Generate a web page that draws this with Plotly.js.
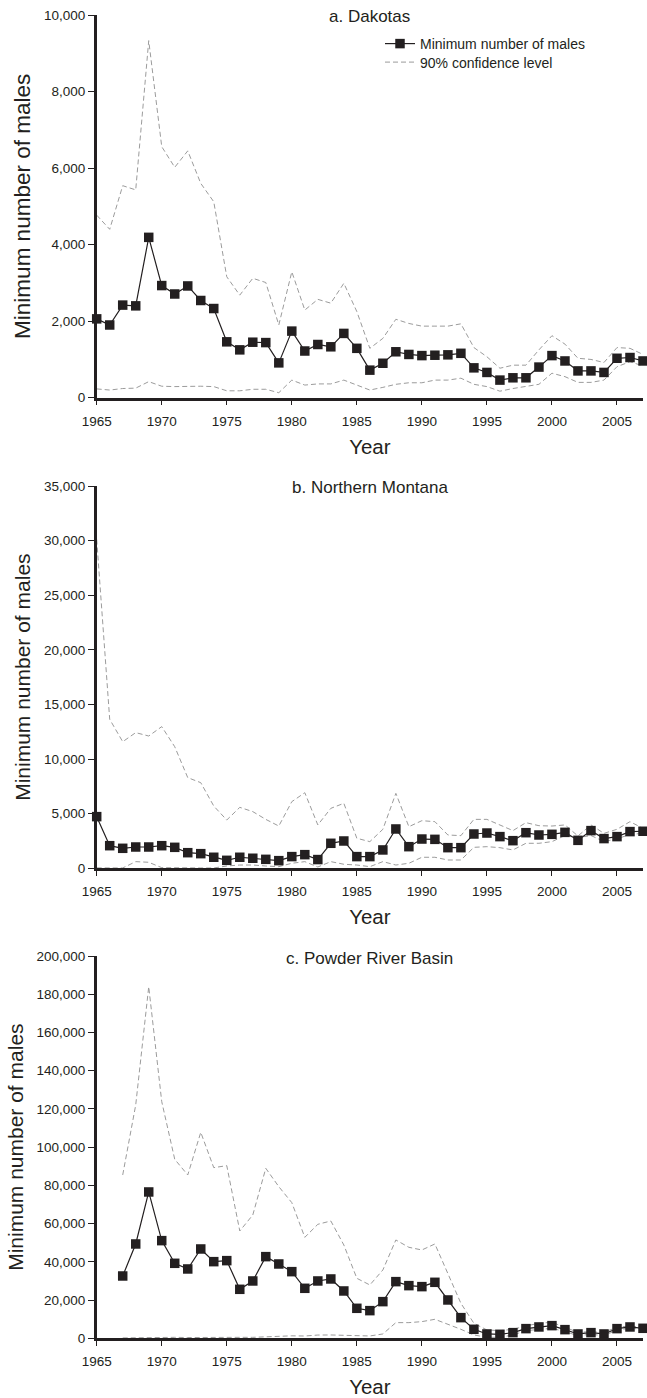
<!DOCTYPE html>
<html>
<head>
<meta charset="utf-8">
<script src="https://cdn.plot.ly/plotly-3.0.1.min.js"></script>
<style>
  html, body { margin: 0; padding: 0; background: #ffffff; }
  #chart { width: 647px; height: 1398px; }
</style>
</head>
<body>
<div id="chart"></div>
<script>
// Survey years shared by all three regions
const years = [1965, 1966, 1967, 1968, 1969, 1970, 1971, 1972, 1973, 1974,
  1975, 1976, 1977, 1978, 1979, 1980, 1981, 1982, 1983, 1984,
  1985, 1986, 1987, 1988, 1989, 1990, 1991, 1992, 1993, 1994,
  1995, 1996, 1997, 1998, 1999, 2000, 2001, 2002, 2003, 2004,
  2005, 2006, 2007];

// a. Dakotas
const dakotasMin = [2060, 1900, 2420, 2400, 4190, 2930, 2710, 2920, 2540, 2330,
  1460, 1250, 1450, 1440, 910, 1740, 1220, 1390, 1330, 1680,
  1290, 720, 900, 1200, 1130, 1100, 1110, 1120, 1160, 780,
  660, 460, 520, 520, 800, 1100, 960, 700, 700, 660,
  1030, 1050, 960];
const dakotasUpper = [4770, 4400, 5540, 5430, 9330, 6560, 6020, 6450, 5600, 5120,
  3160, 2680, 3120, 3010, 1900, 3290, 2290, 2570, 2470, 2990,
  2250, 1290, 1550, 2050, 1940, 1870, 1870, 1870, 1930, 1310,
  1070, 770, 850, 850, 1250, 1620, 1400, 1030, 1000, 920,
  1310, 1290, 1130];
const dakotasLower = [230, 200, 240, 250, 420, 300, 290, 300, 300, 290,
  180, 180, 220, 220, 130, 460, 330, 360, 360, 460,
  330, 200, 270, 350, 390, 390, 460, 460, 510, 350,
  290, 170, 240, 290, 350, 640, 550, 400, 400, 460,
  810, 940, 830];

// b. Northern Montana
const montanaMin = [4730, 2070, 1830, 1950, 1950, 2070, 1920, 1430, 1340, 1010,
  730, 1010, 920, 820, 700, 1070, 1250, 800, 2290, 2500,
  1070, 1070, 1680, 3600, 1980, 2680, 2650, 1890, 1890, 3140,
  3230, 2900, 2530, 3260, 3050, 3110, 3290, 2560, 3450, 2720,
  2900, 3360, 3390];
const montanaUpper = [30100, 13640, 11590, 12420, 12110, 12970, 11130, 8300, 7840, 5700,
  4420, 5580, 5190, 4480, 3870, 6100, 6920, 3970, 5490, 5950,
  2750, 2440, 3570, 6860, 3810, 4360, 4270, 3050, 2990, 4480,
  4480, 3970, 3450, 4180, 3900, 3870, 3970, 2960, 3970, 3200,
  3570, 4270, 3660];
const montanaLower = [40, 30, 30, 610, 550, 60, 30, 30, 30, 30,
  210, 300, 300, 210, 150, 460, 610, 120, 610, 370,
  300, 150, 610, 300, 460, 1010, 1010, 760, 760, 1920,
  1980, 1890, 1680, 2290, 2290, 2440, 3000, 2810, 3000, 2450,
  2700, 3100, 3200];

// c. Powder River Basin (no counts before 1967)
const powderMin = [null, null, 32600, 49350, 76550, 51090, 39230, 36270, 46730, 40100,
  40630, 25630, 29990, 42720, 38880, 34870, 26150, 29990, 31040, 24760,
  15690, 14470, 19180, 29640, 27550, 27030, 29290, 20050, 10810, 4710,
  2270, 2090, 2960, 5060, 5930, 6630, 4530, 2270, 2960, 2270,
  5060, 5930, 5230];
const powderUpper = [null, null, 85440, 122060, 183960, 123800, 93640, 85440, 107760, 89280,
  90320, 56150, 64520, 88930, 79340, 70970, 52830, 59630, 61380, 48820,
  31390, 27900, 35750, 51440, 47600, 46210, 49350, 34000, 18310, 7850,
  4360, 4010, 4710, 6450, 7850, 8370, 5750, 3140, 3490, 3140,
  5750, 6450, 5750];
const powderLower = [null, null, 200, 300, 600, 400, 500, 400, 500, 400,
  500, 500, 500, 800, 1200, 1300, 1200, 1700, 1740, 1570,
  1220, 1220, 2270, 8200, 8200, 8720, 9940, 7500, 4710, 1740,
  520, 520, 1740, 4010, 4710, 5230, 3490, 1390, 2090, 1390,
  4360, 5230, 4710];

const panelTitles = ['a. Dakotas', 'b. Northern Montana', 'c. Powder River Basin'];
const yTickSteps = [2000, 5000, 20000];
const yMaxima = [10000, 35000, 200000];

const INK = '#231f20';
const CI_GREY = '#9b9b9b';
const FONT = 'Liberation Sans, Arial, Helvetica, sans-serif';

// Pixel layout of the 647 x 1398 figure
const W = 647, H = 1398;
const plotLeft = 96.7, plotRight = 643;
const panels = [
  { top: 15, bottom: 397.7, titleY: 17, yTitleSize: 22.5 },
  { top: 486, bottom: 868.3, titleY: 487, yTitleSize: 21 },
  { top: 956, bottom: 1338.3, titleY: 958, yTitleSize: 21 }
];
const px = x => x / W;
const py = y => 1 - y / H;

const series = [
  [dakotasMin, dakotasUpper, dakotasLower],
  [montanaMin, montanaUpper, montanaLower],
  [powderMin, powderUpper, powderLower]
];

const traces = [];
series.forEach((s, i) => {
  const suffix = i === 0 ? '' : String(i + 1);
  const xa = 'x' + suffix, ya = 'y' + suffix;
  const ciStyle = { color: CI_GREY, width: 1, dash: '5px,3px' };
  traces.push({
    x: years, y: s[1], xaxis: xa, yaxis: ya, type: 'scatter', mode: 'lines',
    name: '90% confidence level', legend: 'legend2',
    showlegend: i === 0, line: ciStyle, cliponaxis: false,
    hoverinfo: 'x+y'
  });
  traces.push({
    x: years, y: s[2], xaxis: xa, yaxis: ya, type: 'scatter', mode: 'lines',
    name: '90% confidence level', legend: 'legend2', showlegend: false,
    line: ciStyle, cliponaxis: false, hoverinfo: 'x+y'
  });
  traces.push({
    x: years, y: s[0], xaxis: xa, yaxis: ya, type: 'scatter', mode: 'lines+markers',
    name: 'Minimum number of males', legend: 'legend',
    showlegend: i === 0,
    line: { color: INK, width: 1.2 },
    marker: { symbol: 'square', size: 9.5, color: INK, line: { width: 0 } },
    cliponaxis: false, hoverinfo: 'x+y'
  });
});

// One legend box per entry so each row sits exactly where it belongs
const legendBase = {
  x: px(380), xanchor: 'left', yanchor: 'middle',
  bgcolor: 'rgba(0,0,0,0)', borderwidth: 0,
  font: { family: FONT, size: 14, color: INK },
  itemwidth: 30
};

const layout = {
  width: W, height: H,
  margin: { l: 0, r: 0, t: 0, b: 0 },
  paper_bgcolor: '#ffffff', plot_bgcolor: '#ffffff',
  font: { family: FONT, color: INK, size: 13.5 },
  separators: '.,',
  showlegend: true,
  legend: Object.assign({}, legendBase, { y: py(44) }),
  legend2: Object.assign({}, legendBase, { y: py(62.5) }),
  annotations: [],
  hovermode: 'closest'
};

panels.forEach((p, i) => {
  const suffix = i === 0 ? '' : String(i + 1);
  layout['xaxis' + suffix] = {
    domain: [px(plotLeft), px(plotRight)],
    anchor: 'y' + suffix,
    range: [1965, 2007],
    tick0: 1965, dtick: 5,
    ticks: 'outside', ticklen: 5, tickwidth: 1, tickcolor: INK,
    ticklabelstandoff: 4,
    showline: true, linewidth: 2.5, linecolor: INK,
    showgrid: false, zeroline: false,
    tickfont: { family: FONT, size: 13.5, color: INK },
    title: { text: 'Year', font: { family: FONT, size: 20.5, color: INK }, standoff: 12 }
  };
  layout['yaxis' + suffix] = {
    domain: [py(p.bottom), py(p.top)],
    anchor: 'x' + suffix,
    range: [0, yMaxima[i]],
    tick0: 0, dtick: yTickSteps[i],
    tickformat: ',d',
    ticks: 'outside', ticklen: 6, tickwidth: 1, tickcolor: INK,
    showline: true, linewidth: 2.5, linecolor: INK,
    showgrid: false, zeroline: false,
    tickfont: { family: FONT, size: 13.5, color: INK },
    title: { text: 'Minimum number of males', font: { family: FONT, size: p.yTitleSize, color: INK }, standoff: 8 }
  };
  layout.annotations.push({
    text: panelTitles[i],
    xref: 'paper', yref: 'paper',
    x: px((plotLeft + plotRight) / 2), y: py(p.titleY),
    xanchor: 'center', yanchor: 'middle',
    showarrow: false,
    font: { family: FONT, size: 17, color: INK }
  });
});

Plotly.newPlot('chart', traces, layout, { displayModeBar: false });
</script>
</body>
</html>
